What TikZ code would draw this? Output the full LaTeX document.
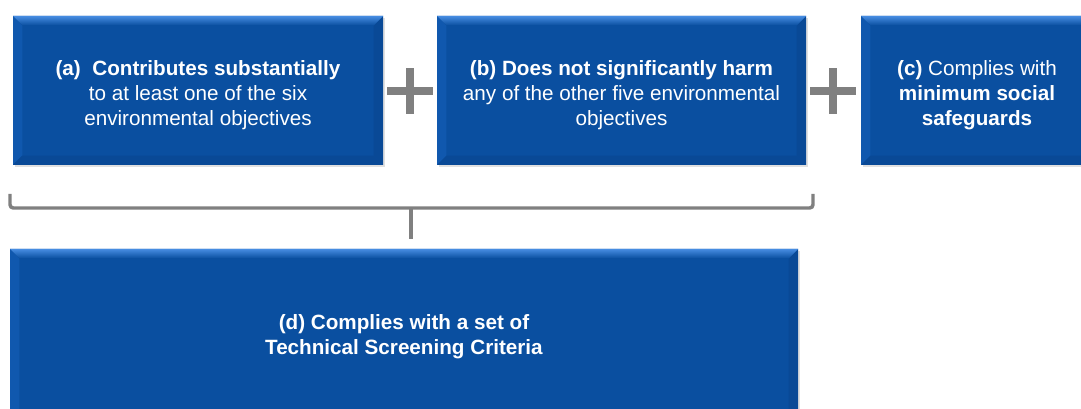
\documentclass[tikz,border=0pt]{standalone}
\usepackage{fontspec}
\setmainfont{Liberation Sans}
\usetikzlibrary{shadows}
\definecolor{bandblue}{RGB}{10,79,160}
\definecolor{bevlite}{RGB}{70,140,225}
\definecolor{bevleft}{RGB}{16,88,174}
\definecolor{bevdark}{RGB}{9,73,150}
\definecolor{plusgray}{RGB}{128,128,128}
\tikzset{
  blk/.style={fill=bandblue, text=white, align=center, inner sep=0pt,
    font=\fontsize{15.5}{18.75}\selectfont,
    drop shadow={shadow xshift=1.2pt, shadow yshift=-1.8pt, opacity=0.2, fill=black!60},
    path picture={
      \fill[bevleft] (path picture bounding box.north west) -- ([shift={(7pt,-7pt)}]path picture bounding box.north west)
        -- ([shift={(7pt,7pt)}]path picture bounding box.south west) -- (path picture bounding box.south west) -- cycle;
      \fill[bevdark] (path picture bounding box.north east) -- ([shift={(-7pt,-7pt)}]path picture bounding box.north east)
        -- ([shift={(-7pt,7pt)}]path picture bounding box.south east) -- (path picture bounding box.south east) -- cycle;
      \fill[bevdark] (path picture bounding box.south west) -- ([shift={(7pt,7pt)}]path picture bounding box.south west)
        -- ([shift={(-7pt,7pt)}]path picture bounding box.south east) -- (path picture bounding box.south east) -- cycle;
      \fill[top color=bevlite, bottom color=bandblue] (path picture bounding box.north west) -- (path picture bounding box.north east)
        -- ([shift={(-7pt,-7pt)}]path picture bounding box.north east) -- ([shift={(7pt,-7pt)}]path picture bounding box.north west) -- cycle;
    }},
  pluss/.style={draw=plusgray, line width=5.4pt},
  brc/.style={draw=plusgray, line width=2.6pt, rounded corners=2.5pt}
}
\newcommand{\lowstrut}[1]{\rule{0pt}{#1}}
\begin{document}
\begin{tikzpicture}[x=0.75pt,y=-0.75pt]
\useasboundingbox (0,0) rectangle (1081,409);
%上排三个方框
\node[blk, minimum width=277.5pt, minimum height=111.75pt] (crit-a) at (198,90.5)
  {\lowstrut{18pt}\textbf{(a)\ \ Contributes substantially}\\ to at least one of the six\\ environmental objectives};
\node[blk, minimum width=276.75pt, minimum height=111.75pt] (crit-b) at (621.5,90.5)
  {\lowstrut{18pt}\textbf{(b) Does not significantly harm}\\ any of the other five environmental\\ objectives};
\node[blk, minimum width=174pt, minimum height=111.75pt] (crit-c) at (977,90.5)
  {\lowstrut{18pt}\textbf{(c)} Complies with\\ \textbf{minimum social}\\ \textbf{safeguards}};
\node[blk, minimum width=591pt, minimum height=128.25pt] (crit-d) at (404,334.5)
  {\lowstrut{15pt}\textbf{(d) Complies with a set of}\\ \textbf{Technical Screening Criteria}};
%加号
\coordinate (plus1) at (410,91);
\coordinate (plus2) at (833,91);
\foreach \p in {plus1,plus2}{
  \draw[pluss] ([xshift=-17pt]\p) -- ([xshift=17pt]\p);
  \draw[pluss] ([yshift=-17pt]\p) -- ([yshift=17pt]\p);
}
%括号
\coordinate (brc-l) at (10,194);
\coordinate (brc-r) at (813,194);
\coordinate (brc-m) at (411,208);
\draw[brc] (brc-l) |- (brc-m) -| (brc-r);
\draw[brc] (brc-m) -- ([yshift=7pt]crit-d.north -| brc-m);
\end{tikzpicture}
\end{document}
